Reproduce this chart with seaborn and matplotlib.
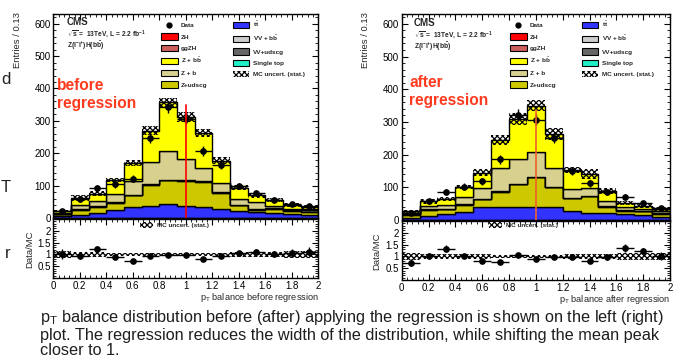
import numpy as np
import pandas as pd
import matplotlib
matplotlib.use("Agg")
import matplotlib.pyplot as plt
from matplotlib.patches import Patch
from matplotlib.lines import Line2D
from matplotlib.ticker import MultipleLocator, FuncFormatter
import seaborn as sns

# 15 bins of width 0.133 between 0 and 2
edges = np.linspace(0, 2, 16)

# ---- before regression (left) ----
ttbar_before   = [5, 9, 14, 26, 35, 38, 42, 38, 33, 27, 22, 18, 15, 12, 10]
zudscg_before  = [6, 17, 20, 21, 35, 65, 74, 76, 78, 51, 17, 8, 14, 10, 10]
vvudscg_before = [2, 2, 2, 2, 2, 2, 2, 2, 2, 2, 2, 3, 3, 4, 5]
zb_before      = [3, 11, 15, 26, 42, 69, 88, 67, 42, 28, 19, 20, 4, 3, 2]
zbb_before     = [6, 23, 24, 43, 56, 96, 152, 129, 108, 69, 33, 21, 20, 10, 7]
mcerr_before   = [4, 8, 7, 7, 10, 15, 14, 16, 13, 11, 8, 7, 7, 6, 6]
data_before    = [22, 58, 93, 104, 121, 247, 343, 307, 207, 165, 98, 76, 57, 42, 38]
# half width of the hatched band in the ratio panel
rband_before   = [0.15, 0.11, 0.1, 0.08, 0.08, 0.07, 0.06, 0.06, 0.06, 0.07, 0.1, 0.11, 0.12, 0.14, 0.15]

# ---- after regression (right) ----
ttbar_after   = [7, 12, 18, 24, 41, 41, 40, 39, 39, 28, 22, 20, 18, 15, 10]
zudscg_after  = [8, 19, 15, 22, 22, 46, 69, 92, 61, 38, 50, 20, 11, 11, 8]
vvudscg_after = [2, 2, 2, 2, 2, 2, 2, 2, 2, 2, 2, 3, 3, 3, 4]
zb_after      = [5, 10, 11, 22, 32, 69, 75, 75, 56, 26, 23, 15, 7, 4, 4]
zbb_after     = [5, 14, 18, 30, 48, 87, 123, 142, 105, 59, 43, 31, 13, 10, 9]
mcerr_after   = [5, 7, 6, 6, 10, 15, 18, 18, 18, 10, 15, 10, 6, 6, 6]
data_after    = [20, 58, 85, 102, 118, 186, 322, 307, 252, 151, 112, 85, 70, 52, 36]
rband_after   = [0.15, 0.12, 0.1, 0.1, 0.1, 0.08, 0.08, 0.08, 0.08, 0.1, 0.12, 0.12, 0.15, 0.15, 0.15]

# red marker line at balance = 1
line_x = 1.0
line_top_before = 348
line_top_after = 335

colors = {
    "ZH": "#ff0000", "ggZH": "#cc5e5e", "Z+bb": "#ffff00", "Z+b": "#d8d08e",
    "Z+udscg": "#cdc800", "tt": "#3333ff", "VV+bb": "#cccccc",
    "VV+udscg": "#666666", "Single top": "#22f0c8",
}

sns.set_theme(style="ticks")
plt.rcParams["font.family"] = ["Liberation Sans", "DejaVu Sans"]
plt.rcParams["mathtext.fontset"] = "custom"
plt.rcParams["mathtext.rm"] = "Liberation Sans"
plt.rcParams["mathtext.it"] = "Liberation Sans:italic"
plt.rcParams["mathtext.bf"] = "Liberation Sans:bold"
plt.rcParams["hatch.linewidth"] = 0.9

centers = (edges[:-1] + edges[1:]) / 2
binw = edges[1] - edges[0]
W, H = 675, 359


def fig_box(x0, y0, x1, y1):
    # pixel box (top-left origin) -> figure fraction rect
    return [x0 / W, 1 - y1 / H, (x1 - x0) / W, (y1 - y0) / H]


def style_axis(ax):
    ax.tick_params(which="both", direction="in", top=True, right=True, labelsize=7,
                   colors="black", pad=2)
    ax.tick_params(which="major", length=4.5, width=0.8)
    ax.tick_params(which="minor", length=2.3, width=0.6)
    for s in ax.spines.values():
        s.set_linewidth(1.0)
        s.set_color("black")


def draw_panel(ax, rax, comps, data, mcerr, rband, line_top, line_color, xlabel):
    rows = []
    for name, vals in comps:
        for c, v in zip(centers, vals):
            rows.append((c, name, v))
    df = pd.DataFrame(rows, columns=["x", "proc", "n"])
    order = [n for n, _ in comps][::-1]   # seaborn stacks first hue level on top
    sns.histplot(df, x="x", weights="n", hue="proc", hue_order=order, bins=list(edges),
                 multiple="stack", element="step", palette=colors, alpha=1,
                 edgecolor="black", linewidth=1.0, legend=False, ax=ax)

    total = np.sum([np.array(v) for _, v in comps], axis=0)
    mcerr = np.array(mcerr)
    data = np.array(data, dtype=float)
    ax.bar(centers, 2 * mcerr, bottom=total - mcerr, width=binw, facecolor="none",
           edgecolor="black", hatch="xxxxxx", linewidth=0)
    ax.errorbar(centers, data, yerr=np.sqrt(data), xerr=binw / 2, fmt="o",
                color="black", ms=3.8, lw=1.0, capsize=0, zorder=5)
    ax.plot([line_x, line_x], [0, line_top], color=line_color, lw=1.2, zorder=6)

    ax.set_xlim(0, 2)
    ax.set_ylim(0, 630)
    ax.set_xlabel("")
    ax.set_ylabel("")
    ax.xaxis.set_major_locator(MultipleLocator(0.2))
    ax.xaxis.set_minor_locator(MultipleLocator(0.04))
    ax.yaxis.set_major_locator(MultipleLocator(100))
    ax.yaxis.set_minor_locator(MultipleLocator(20))
    ax.tick_params(labelbottom=False)
    style_axis(ax)

    # ratio panel
    ratio = data / total
    rerr = np.sqrt(data) / total
    rel = np.array(rband)
    rax.bar(centers, 2 * rel, bottom=1 - rel, width=binw, facecolor="none",
            edgecolor="black", hatch="xxxxxx", linewidth=0)
    rax.errorbar(centers, ratio, yerr=rerr, xerr=binw / 2, fmt="o", color="black",
                 ms=3.8, lw=1.0, capsize=0, zorder=5)
    rax.set_xlim(0, 2)
    rax.set_ylim(0, 2.5)
    rax.set_yticks([0.5, 1, 1.5, 2])
    rax.yaxis.set_minor_locator(MultipleLocator(0.1))
    rax.xaxis.set_major_locator(MultipleLocator(0.2))
    rax.xaxis.set_minor_locator(MultipleLocator(0.04))
    fmt = FuncFormatter(lambda v, p: "%g" % round(v, 2))
    rax.xaxis.set_major_formatter(fmt)
    rax.yaxis.set_major_formatter(fmt)
    style_axis(rax)
    rax.set_xlabel(xlabel, fontsize=6.6, loc="right", labelpad=0)
    rax.set_ylabel("")


def add_legend(x0, y0):
    handles = [
        Line2D([], [], marker="o", color="black", ls="none", ms=3.5),
        Patch(facecolor=colors["ZH"], edgecolor="black", lw=0.8),
        Patch(facecolor=colors["ggZH"], edgecolor="black", lw=0.8),
        Patch(facecolor=colors["Z+bb"], edgecolor="black", lw=0.8),
        Patch(facecolor=colors["Z+b"], edgecolor="black", lw=0.8),
        Patch(facecolor=colors["Z+udscg"], edgecolor="black", lw=0.8),
        Patch(facecolor=colors["tt"], edgecolor="black", lw=0.8),
        Patch(facecolor=colors["VV+bb"], edgecolor="black", lw=0.8),
        Patch(facecolor=colors["VV+udscg"], edgecolor="black", lw=0.8),
        Patch(facecolor=colors["Single top"], edgecolor="black", lw=0.8),
        Patch(facecolor="white", edgecolor="black", hatch="xxxxxx", lw=0),
    ]
    labels = ["Data", "ZH", "ggZH", r"Z + b$\mathbf{\bar{b}}$", "Z + b", "Z+udscg",
              r"t$\mathbf{\bar{t}}$", r"VV + b$\mathbf{\bar{b}}$", "VV+udscg", "Single top",
              "MC uncert. (stat.)"]
    fig.legend(handles, labels, ncol=2, loc="upper left",
               bbox_to_anchor=(x0 / W, 1 - y0 / H), frameon=False,
               prop={"size": 4.6, "weight": "bold"}, handlelength=2.6,
               handleheight=1.15, labelspacing=0.78, columnspacing=4.0,
               handletextpad=0.5, borderpad=0, borderaxespad=0)


def add_ratio_legend(x0, y0):
    fig.legend([Patch(facecolor="white", edgecolor="black", hatch="xxxxxx", lw=0)],
               ["MC uncert. (stat.)"], loc="upper left",
               bbox_to_anchor=(x0 / W, 1 - y0 / H), frameon=False,
               prop={"size": 4.6, "weight": "bold"}, handlelength=2.1,
               handleheight=1.1, handletextpad=0.5, borderpad=0, borderaxespad=0)


def cms_label(x0, y0):
    fig.text(x0 / W, 1 - y0 / H, "CMS", fontsize=7, fontweight="bold", va="top")
    fig.text(x0 / W, 1 - (y0 + 11) / H, r"$\mathbf{\sqrt{s}}$ =  13TeV, L = 2.2 fb$^{\mathbf{-1}}$",
             fontsize=4.8, fontweight="bold", va="top")
    fig.text(x0 / W, 1 - (y0 + 22) / H, r"Z($\mathbf{l^{-}l^{+}}$)H(b$\mathbf{\bar{b}}$)",
             fontsize=4.8, fontweight="bold", va="top")


fig = plt.figure(figsize=(W / 100, H / 100), dpi=100)
fig.patch.set_facecolor("white")

axL = fig.add_axes(fig_box(53.3, 14, 318.3, 218))
raxL = fig.add_axes(fig_box(53.3, 219, 318.3, 278))
axR = fig.add_axes(fig_box(401.7, 14, 670, 220))
raxR = fig.add_axes(fig_box(401.7, 221, 670, 280))

comps_before = [("tt", ttbar_before), ("Z+udscg", zudscg_before),
                ("VV+udscg", vvudscg_before), ("Z+b", zb_before), ("Z+bb", zbb_before)]
comps_after = [("tt", ttbar_after), ("Z+udscg", zudscg_after),
               ("VV+udscg", vvudscg_after), ("Z+b", zb_after), ("Z+bb", zbb_after)]

draw_panel(axL, raxL, comps_before, data_before, mcerr_before, rband_before,
           line_top_before, "#ff0000", r"p$_{\mathrm{T}}$ balance before regression")
draw_panel(axR, raxR, comps_after, data_after, mcerr_after, rband_after,
           line_top_after, "#f0602a", r"p$_{\mathrm{T}}$ balance after regression")

add_legend(161, 20)
add_legend(510, 20)
add_ratio_legend(140, 222)
add_ratio_legend(489, 222)
cms_label(67, 17)
cms_label(414, 18)

# axis titles
fig.text(18 / W, 1 - 12 / H, "Entries / 0.13", rotation=90, fontsize=6.8, va="top", ha="center")
fig.text(365 / W, 1 - 12 / H, "Entries / 0.13", rotation=90, fontsize=6.8, va="top", ha="center")
fig.text(30 / W, 1 - 249 / H, "Data/MC", rotation=90, fontsize=6.8, va="center", ha="center")
fig.text(377 / W, 1 - 251 / H, "Data/MC", rotation=90, fontsize=6.8, va="center", ha="center")

# red annotations
fig.text(57 / W, 1 - 78 / H, "before\nregression", color="#ff3b1f", fontsize=11.2,
         fontweight="bold", va="top", linespacing=1.22)
fig.text(409 / W, 1 - 75 / H, "after\nregression", color="#ff3b1f", fontsize=11.2,
         fontweight="bold", va="top", linespacing=1.22)

# slide text at the left edge (mostly outside the crop in the original)
for ch, yc in [("d", 80), ("T", 187), ("r", 253)]:
    fig.text(11 / W, 1 - yc / H, ch, fontsize=12, ha="right", va="center", color="#222222")

caption = ("p$_{\\mathrm{T}}$ balance distribution before (after) applying the regression is shown on the left (right)\n"
           "plot. The regression reduces the width of the distribution, while shifting the mean peak\n"
           "closer to 1.")
fig.text(40 / W, 1 - 308 / H, caption, fontsize=11.7, va="top", ha="left",
         color="#1e1e1e", linespacing=1.06)

fig.savefig("out.png", dpi=100)
